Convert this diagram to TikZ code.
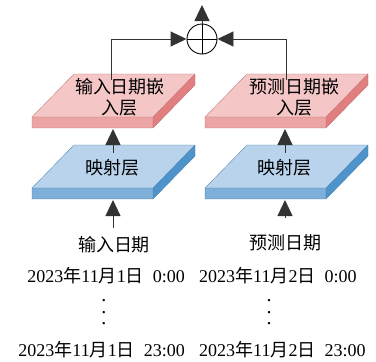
\documentclass[tikz,border=0pt]{standalone}
\usepackage{fontspec}
\setmainfont{Liberation Serif}
\newfontfamily\cjk{Noto Sans CJK SC}
\usetikzlibrary{arrows.meta}
\definecolor{pinktop}{HTML}{F4C6C6}
\definecolor{pinkfront}{HTML}{EBA5A5}
\definecolor{pinkside}{HTML}{E07E80}
\definecolor{bluetop}{HTML}{B8D3EB}
\definecolor{bluefront}{HTML}{7EAFD8}
\definecolor{blueside}{HTML}{4F93CB}
\newcommand\myslab[3]{%
  \fill[#3top] (#1,{#2+43}) -- ({#1+121},{#2+43}) -- ({#1+163},#2) -- ({#1+42},#2) -- cycle;
  \fill[#3front] (#1,{#2+43}) rectangle ({#1+121},{#2+54});
  \fill[#3side] ({#1+121},{#2+43}) -- ({#1+163},#2) -- ({#1+163},{#2+11}) -- ({#1+121},{#2+54}) -- cycle;
  \draw[#3side!85!black, line width=0.3pt, line join=round]
    (#1,{#2+43}) -- ({#1+42},#2) -- ({#1+163},#2) -- ({#1+163},{#2+11}) -- ({#1+121},{#2+54}) -- (#1,{#2+54}) -- cycle
    (#1,{#2+43}) -- ({#1+121},{#2+43}) -- ({#1+163},#2)
    ({#1+121},{#2+43}) -- ({#1+121},{#2+54});
}
\newcommand\mydot{\smash{.}}
\tikzset{
  conn/.style={draw=black!80, line width=0.9pt},
  arr/.style={conn, -{Triangle[length=16pt,width=15pt]}},
  lbl/.style={font=\cjk\fontsize{18}{21}\selectfont, align=center, inner sep=0pt},
  datetxt/.style={font=\fontsize{18}{21}\selectfont, inner sep=0pt},
  vdotstxt/.style={font=\fontsize{20}{11.5}\selectfont, align=center, inner sep=0pt},
}
\begin{document}
\begin{tikzpicture}[x=1pt,y=-1pt]
\useasboundingbox (0,0) rectangle (376,362);
% slabs
\myslab{32}{74}{pink}
\myslab{205}{74}{pink}
\myslab{32}{145}{blue}
\myslab{205}{145}{blue}
% labels
\node[lbl] (embL) at (120,97) {输入日期嵌\\入层};
\node[lbl] (embR) at (295,97) {预测日期嵌\\入层};
\node[lbl] (mapL) at (112,168) {映射层};
\node[lbl] (mapR) at (285,168) {映射层};
\node[lbl] (inL) at (114,245) {输入日期};
\node[lbl] (inR) at (286,243) {预测日期};
\node[datetxt, anchor=east] (dL1) at (185,276) {2023{\cjk 年}11{\cjk 月}1{\cjk 日}\hspace{9pt}0:00};
\node[datetxt, anchor=west] (dR1) at (199,276) {2023{\cjk 年}11{\cjk 月}2{\cjk 日}\hspace{9pt}0:00};
\node[vdotstxt] (vL) at (104,313) {\mydot\\\mydot\\\mydot};
\node[vdotstxt] (vR) at (269,313) {\mydot\\\mydot\\\mydot};
\node[datetxt, anchor=east] (dL2) at (185,350) {2023{\cjk 年}11{\cjk 月}1{\cjk 日}\hspace{9pt}23:00};
\node[datetxt, anchor=west] (dR2) at (199,350) {2023{\cjk 年}11{\cjk 月}2{\cjk 日}\hspace{9pt}23:00};
% sum node
\node[circle, draw=black, line width=0.9pt, minimum size=30pt, inner sep=0pt] (plus) at (202,39) {};
\draw[line width=0.9pt] (plus.north) -- (plus.south) (plus.west) -- (plus.east);
% coordinates
\coordinate (outT) at (202,5);
\coordinate (eL) at (111,80);
\coordinate (eR) at (286,80);
\coordinate (pL) at (113,129);
\coordinate (pR) at (285,129);
\coordinate (mL) at (113,153);
\coordinate (mR) at (285,153);
\coordinate (bL) at (113,200);
\coordinate (bR) at (285,200);
\coordinate (sL) at (113,228);
\coordinate (sR) at (285,218);
% connectors
\draw[arr] (plus.north) -- (outT);
\draw[arr] (eL) |- (plus.west);
\draw[arr] (eR) |- (plus.east);
\draw[arr] (mL) -- (pL);
\draw[arr] (mR) -- (pR);
\draw[arr] (sL) -- (bL);
\draw[arr] (sR) -- (bR);
\end{tikzpicture}
\end{document}
